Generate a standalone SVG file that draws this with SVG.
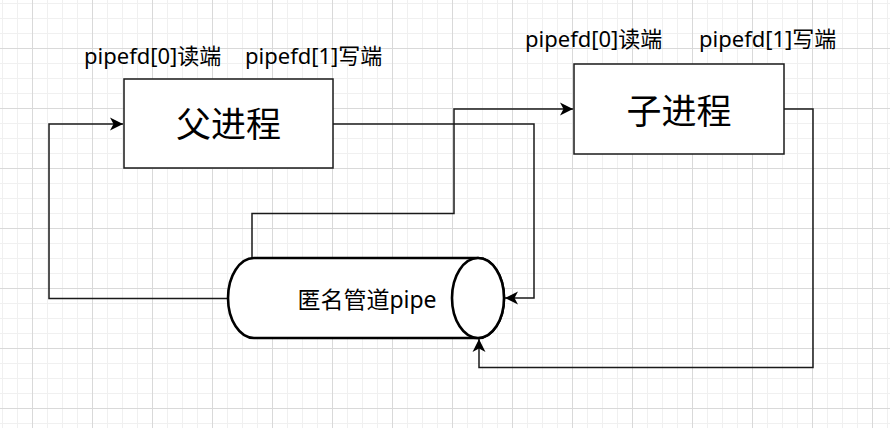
<svg xmlns="http://www.w3.org/2000/svg" width="890" height="428" viewBox="0 0 890 428">
  <style>
    .box { fill: #ffffff; stroke: #1a1a1a; stroke-width: 1.5; }
    .pipe { fill: #ffffff; stroke: #000000; stroke-width: 2.6; }
    .edge { fill: none; stroke: #1a1a1a; stroke-width: 1.5; }
    .txt { font-family: "Noto Sans", "Noto Sans CJK SC", sans-serif; fill: #000000; }
    .lbl { font-size: 22px; }
    .big { font-size: 35px; }
    .mid { font-size: 23px; }
  </style>
  <defs>
    <pattern id="grid" x="32" y="48" width="60" height="60" patternUnits="userSpaceOnUse">
      <path d="M15.5,0 V60 M30.5,0 V60 M45.5,0 V60 M0,15.5 H60 M0,30.5 H60 M0,45.5 H60" stroke="#f0f0f0" stroke-width="1" fill="none"/>
      <path d="M0.5,0 V60 M0,0.5 H60" stroke="#d9d9d9" stroke-width="1" fill="none"/>
    </pattern>
    <marker id="arrow" viewBox="0 0 14 14" refX="13" refY="7" markerWidth="14" markerHeight="14" markerUnits="userSpaceOnUse" orient="auto">
      <path d="M0,0.5 L13,7 L0,13.5 L3.5,7 Z" fill="#000000"/>
    </marker>
  </defs>
  <rect x="0" y="0" width="890" height="428" fill="#ffffff"/>
  <rect x="0" y="0" width="890" height="428" fill="url(#grid)"/>

  <g id="connectors">
    <path class="edge" d="M228,298.5 H49 V124 H123" marker-end="url(#arrow)"/>
    <path class="edge" d="M333,124 H534 V298 H505" marker-end="url(#arrow)"/>
    <path class="edge" d="M252,258 V213.5 H454 V109 H573" marker-end="url(#arrow)"/>
    <path class="edge" d="M784,109 H813 V367.5 H479 V339" marker-end="url(#arrow)"/>
  </g>

  <g id="parent">
    <rect class="box" x="124" y="79" width="209" height="89"/>
    <text class="txt big" x="228.5" y="137" text-anchor="middle">父进程</text>
  </g>

  <g id="child">
    <rect class="box" x="574" y="64" width="210" height="90"/>
    <text class="txt big" x="679" y="123.5" text-anchor="middle">子进程</text>
  </g>

  <g id="pipe">
    <path class="pipe" d="M254,258 H478 A26,40 0 0 1 478,338 H254 A26,40 0 0 1 254,258 Z"/>
    <ellipse class="pipe" cx="478" cy="298" rx="26" ry="40"/>
    <text class="txt mid" x="367" y="308" text-anchor="middle">匿名管道pipe</text>
  </g>

  <g id="label-parent-read">
    <text class="txt lbl" x="84" y="64">pipefd[0]读端</text>
  </g>
  <g id="label-parent-write">
    <text class="txt lbl" x="245" y="64">pipefd[1]写端</text>
  </g>
  <g id="label-child-read">
    <text class="txt lbl" x="525" y="47">pipefd[0]读端</text>
  </g>
  <g id="label-child-write">
    <text class="txt lbl" x="699" y="47">pipefd[1]写端</text>
  </g>
</svg>
